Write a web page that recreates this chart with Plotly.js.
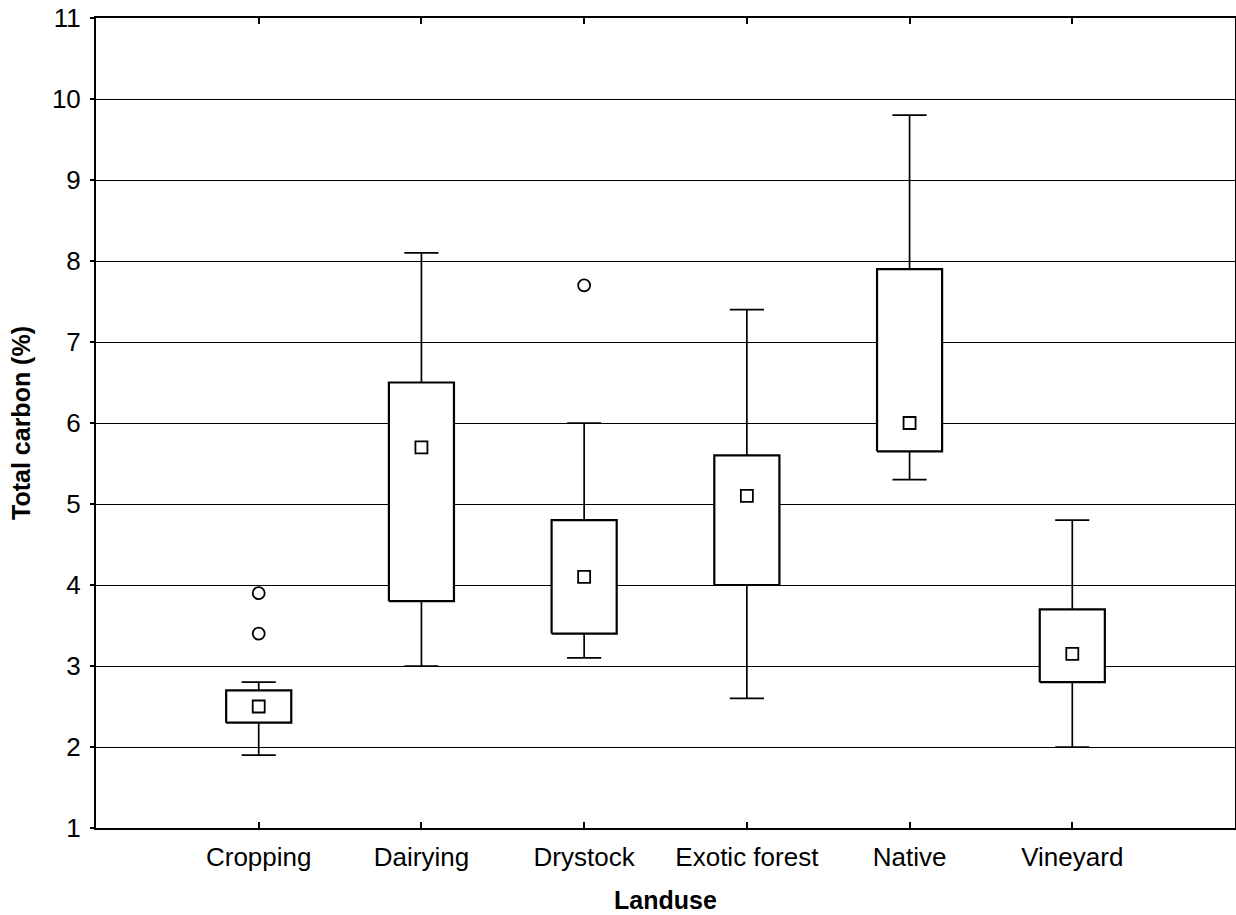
<!DOCTYPE html>
<html>
<head>
<meta charset="utf-8">
<script src="https://cdn.plot.ly/plotly-3.0.1.min.js"></script>
<style>html,body{margin:0;padding:0;background:#fff;}#chart{width:1236px;height:915px;}</style>
</head>
<body>
<div id="chart"></div>
<script>
const categories = ['Cropping', 'Dairying', 'Drystock', 'Exotic forest', 'Native', 'Vineyard'];
const lowerWhisker = [1.9, 3.0, 3.1, 2.6, 5.3, 2.0];
const q1 = [2.3, 3.8, 3.4, 4.0, 5.65, 2.8];
const median = [2.5, 5.7, 4.1, 5.1, 6.0, 3.15];
const q3 = [2.7, 6.5, 4.8, 5.6, 7.9, 3.7];
const upperWhisker = [2.8, 8.1, 6.0, 7.4, 9.8, 4.8];
const outlierCategory = ['Cropping', 'Cropping', 'Drystock'];
const outlierValue = [3.4, 3.9, 7.7];
const yTicks = [1, 2, 3, 4, 5, 6, 7, 8, 9, 10, 11];

const BOX_HALF = 0.2;
const CAP_HALF = 0.105;
const FONT = 'Liberation Sans, Arial, sans-serif';

const traces = [];

// whiskers with caps
const wx = [], wy = [];
categories.forEach((c, i) => {
  wx.push(i, i, null, i - CAP_HALF, i + CAP_HALF, null);
  wy.push(q3[i], upperWhisker[i], null, upperWhisker[i], upperWhisker[i], null);
  wx.push(i, i, null, i - CAP_HALF, i + CAP_HALF, null);
  wy.push(q1[i], lowerWhisker[i], null, lowerWhisker[i], lowerWhisker[i], null);
});
traces.push({type: 'scatter', mode: 'lines', x: wx, y: wy, line: {color: '#000', width: 1.7}, hoverinfo: 'skip', showlegend: false, connectgaps: false});

// boxes (white filled)
categories.forEach((c, i) => {
  traces.push({
    type: 'scatter', mode: 'lines',
    x: [i - BOX_HALF, i + BOX_HALF, i + BOX_HALF, i - BOX_HALF, i - BOX_HALF],
    y: [q1[i], q1[i], q3[i], q3[i], q1[i]],
    fill: 'toself', fillcolor: '#fff',
    line: {color: '#000', width: 2.2},
    name: c, showlegend: false
  });
});

// medians
traces.push({
  type: 'scatter', mode: 'markers',
  x: categories.map((c, i) => i), y: median,
  marker: {symbol: 'square', size: 12, color: '#fff', line: {color: '#000', width: 1.8}},
  name: 'Median', showlegend: false
});

// outliers
traces.push({
  type: 'scatter', mode: 'markers',
  x: outlierCategory.map(c => categories.indexOf(c)), y: outlierValue,
  marker: {symbol: 'circle', size: 12, color: '#fff', line: {color: '#000', width: 1.8}},
  name: 'Outliers', showlegend: false
});

const layout = {
  width: 1236, height: 915,
  margin: {l: 96, r: 1, t: 18, b: 87},
  paper_bgcolor: '#fff', plot_bgcolor: '#fff',
  showlegend: false,
  font: {family: FONT, color: '#000', size: 26},
  xaxis: {
    range: [-1, 6],
    tickmode: 'array',
    tickvals: categories.map((c, i) => i),
    ticktext: categories,
    ticks: 'inside', ticklen: 6, tickwidth: 2, tickcolor: '#000',
    showline: true, linecolor: '#000', linewidth: 2, mirror: 'ticks',
    showgrid: false, zeroline: false,
    tickfont: {family: FONT, size: 26, color: '#000'},
    ticklabelstandoff: 5,
    title: {text: '<b>Landuse</b>', font: {family: FONT, size: 25, color: '#000'}, standoff: 20}
  },
  yaxis: {
    range: [1, 11],
    tickmode: 'array',
    tickvals: yTicks,
    ticks: 'outside', ticklen: 4, tickwidth: 2, tickcolor: '#000',
    showline: true, linecolor: '#000', linewidth: 2, mirror: 'ticks',
    showgrid: true, gridcolor: '#000', gridwidth: 1,
    zeroline: false,
    tickfont: {family: FONT, size: 26, color: '#000'},
    ticklabelstandoff: 4,
    title: {text: '<b>Total carbon (%)</b>', font: {family: FONT, size: 25, color: '#000'}, standoff: 14}
  }
};

Plotly.newPlot('chart', traces, layout, {displayModeBar: false, staticPlot: true});
</script>
</body>
</html>
